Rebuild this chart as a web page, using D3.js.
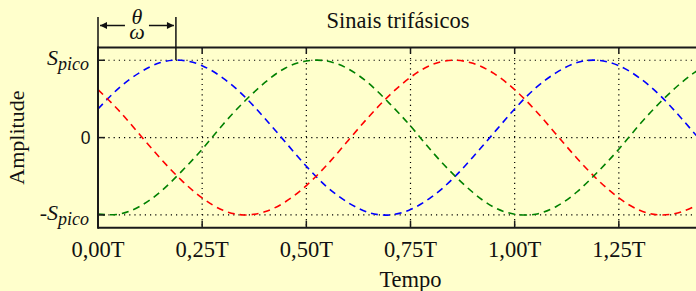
<!DOCTYPE html>
<html>
<head>
<meta charset="utf-8">
<script src="https://cdn.jsdelivr.net/npm/d3@7/dist/d3.min.js"></script>
<style>
  body { margin: 0; background: #ffffcc; }
  svg { display: block; }
</style>
</head>
<body>
<script>
'use strict';

// tempo em fracoes de T (passo 0,05T)
const tempo = [0, 0.05, 0.10, 0.15, 0.20, 0.25, 0.30, 0.35, 0.40, 0.45, 0.50,
    0.55, 0.60, 0.65, 0.70, 0.75, 0.80, 0.85, 0.90, 0.95, 1.00,
    1.05, 1.10, 1.15, 1.20, 1.25, 1.30, 1.35, 1.40, 1.45, 1.50];

// amplitude (em unidades de S_pico)
const faseVermelha = [0.62, 0.35, 0.04, -0.27, -0.55, -0.78, -0.94, -1.00, -0.96, -0.83, -0.62,
    -0.35, -0.04, 0.27, 0.55, 0.78, 0.94, 1.00, 0.96, 0.83, 0.62,
    0.35, 0.04, -0.27, -0.55, -0.78, -0.94, -1.00, -0.96, -0.83, -0.62];
const faseVerde = [-0.99, -0.99, -0.89, -0.70, -0.44, -0.15, 0.17, 0.46, 0.71, 0.90, 0.99,
    0.99, 0.89, 0.70, 0.44, 0.15, -0.17, -0.46, -0.71, -0.90, -0.99,
    -0.99, -0.89, -0.70, -0.44, -0.15, 0.17, 0.46, 0.71, 0.90, 0.99];
const faseAzul = [0.37, 0.64, 0.84, 0.97, 1.00, 0.93, 0.77, 0.54, 0.25, -0.06, -0.37,
    -0.64, -0.84, -0.97, -1.00, -0.93, -0.77, -0.54, -0.25, 0.06, 0.37,
    0.64, 0.84, 0.97, 1.00, 0.93, 0.77, 0.54, 0.25, -0.06, -0.37];

const xTicks = [0, 0.25, 0.5, 0.75, 1.0, 1.25, 1.5];
const xTickLabels = ['0,00T', '0,25T', '0,50T', '0,75T', '1,00T', '1,25T'];
const yTicks = [1, 0, -1];
const thetaT = 0.187; // theta/omega

(function () {
    const W = 696, H = 291;
    const mLeft = 98, mRight = 723, mTop = 47.5, mBottom = 227.7;

    const svg = d3.select('body').append('svg')
        .attr('width', W)
        .attr('height', H);

    svg.append('rect').attr('width', W).attr('height', H).attr('fill', '#ffffcc');

    const x = d3.scaleLinear().domain([0, 1.5]).range([mLeft, mRight]);
    const y = d3.scaleLinear().domain([-1.165, 1.165]).range([mBottom, mTop]);

    const defs = svg.append('defs');
    defs.append('clipPath').attr('id', 'plot')
        .append('rect')
        .attr('x', mLeft).attr('y', mTop)
        .attr('width', mRight - mLeft).attr('height', mBottom - mTop);

    // grade pontilhada
    const grid = svg.append('g');
    grid.selectAll('line.v')
        .data(xTicks.slice(1))
        .enter().append('line')
        .attr('x1', d => x(d)).attr('x2', d => x(d))
        .attr('y1', mTop).attr('y2', mBottom)
        .attr('stroke', '#000').attr('stroke-width', 1.2)
        .attr('stroke-dasharray', '1.2,4');
    grid.selectAll('line.h')
        .data(yTicks)
        .enter().append('line')
        .attr('x1', mLeft).attr('x2', mRight)
        .attr('y1', d => y(d)).attr('y2', d => y(d))
        .attr('stroke', '#000').attr('stroke-width', 1.2)
        .attr('stroke-dasharray', '1.2,4');

    // curvas
    const linha = d3.line()
        .x((d, i) => x(tempo[i]))
        .y(d => y(d))
        .curve(d3.curveNatural);

    const series = [
        { valores: faseAzul, cor: '#0000ff' },
        { valores: faseVermelha, cor: '#ff0000' },
        { valores: faseVerde, cor: '#008000' }
    ];

    svg.append('g').attr('clip-path', 'url(#plot)')
        .selectAll('path')
        .data(series)
        .enter().append('path')
        .attr('d', d => linha(d.valores))
        .attr('fill', 'none')
        .attr('stroke', d => d.cor)
        .attr('stroke-width', 1.6)
        .attr('stroke-dasharray', '7,5');

    // eixos
    const ax = svg.append('g').attr('stroke', '#1a1a1a').attr('stroke-width', 2);
    ax.append('line').attr('x1', mLeft).attr('x2', mRight).attr('y1', mTop).attr('y2', mTop);
    ax.append('line').attr('x1', mLeft).attr('x2', mRight).attr('y1', mBottom).attr('y2', mBottom);
    ax.append('line').attr('x1', mLeft).attr('x2', mLeft).attr('y1', mTop - 1).attr('y2', mBottom + 1);

    const ticks = svg.append('g').attr('stroke', '#1a1a1a').attr('stroke-width', 1.5);
    xTicks.slice(1).forEach(t => {
        ticks.append('line').attr('x1', x(t)).attr('x2', x(t)).attr('y1', mTop).attr('y2', mTop + 6);
        ticks.append('line').attr('x1', x(t)).attr('x2', x(t)).attr('y1', mBottom).attr('y2', mBottom - 7);
    });
    yTicks.forEach(v => {
        ticks.append('line').attr('x1', mLeft).attr('x2', mLeft + 7).attr('y1', y(v)).attr('y2', y(v));
    });

    // rotulos
    const serif = 'Liberation Serif, Times New Roman, serif';

    svg.selectAll('text.xt')
        .data(xTickLabels)
        .enter().append('text')
        .attr('x', (d, i) => x(xTicks[i]))
        .attr('y', 256.5)
        .attr('text-anchor', 'middle')
        .attr('font-family', serif)
        .attr('font-size', 22.5)
        .attr('fill', '#111')
        .text(d => d);

    function spico(v, prefixo) {
        const t = svg.append('text')
            .attr('x', 89)
            .attr('y', y(v) + 5)
            .attr('text-anchor', 'end')
            .attr('font-family', serif)
            .attr('fill', '#111');
        t.append('tspan').attr('font-size', 22).attr('font-style', 'italic').text(prefixo + 'S');
        t.append('tspan').attr('font-size', 18).attr('font-style', 'italic').attr('dy', 5).text('pico');
    }
    spico(1, '');
    spico(-1, '-');

    svg.append('text')
        .attr('x', 90.5)
        .attr('y', y(0) + 6.5)
        .attr('text-anchor', 'end')
        .attr('font-family', 'Liberation Sans, Arial, sans-serif')
        .attr('font-size', 17.5)
        .attr('fill', '#111')
        .text('0');

    svg.append('text')
        .attr('x', 398)
        .attr('y', 28)
        .attr('text-anchor', 'middle')
        .attr('font-family', serif)
        .attr('font-size', 22.5)
        .attr('fill', '#111')
        .text('Sinais trifásicos');

    svg.append('text')
        .attr('x', (mLeft + mRight) / 2)
        .attr('y', 287)
        .attr('text-anchor', 'middle')
        .attr('font-family', serif)
        .attr('font-size', 22.5)
        .attr('fill', '#111')
        .text('Tempo');

    svg.append('text')
        .attr('transform', 'translate(23.5,' + y(0) + ') rotate(-90)')
        .attr('text-anchor', 'middle')
        .attr('font-family', serif)
        .attr('font-size', 22)
        .attr('fill', '#111')
        .text('Amplitude');

    // anotacao theta/omega
    const xa = x(0), xb = x(thetaT), ya = 25.5;
    const meio = (xa + xb) / 2;
    defs.append('marker')
        .attr('id', 'seta')
        .attr('viewBox', '0 0 10 10')
        .attr('refX', 10).attr('refY', 5)
        .attr('markerWidth', 10).attr('markerHeight', 7)
        .attr('markerUnits', 'userSpaceOnUse')
        .attr('orient', 'auto')
        .append('path').attr('d', 'M0,0L10,5L0,10z').attr('fill', '#111');

    const an = svg.append('g').attr('stroke', '#111').attr('stroke-width', 1.5);
    an.append('line').attr('x1', xa).attr('x2', xa).attr('y1', 17).attr('y2', mTop);
    an.append('line').attr('x1', xb).attr('x2', xb).attr('y1', 17).attr('y2', y(1));
    an.append('line').attr('x1', meio - 12).attr('x2', xa + 2).attr('y1', ya).attr('y2', ya)
        .attr('marker-end', 'url(#seta)');
    an.append('line').attr('x1', meio + 12).attr('x2', xb - 2).attr('y1', ya).attr('y2', ya)
        .attr('marker-end', 'url(#seta)');

    // fracao theta/omega num so texto
    const frac = svg.append('text')
        .attr('text-anchor', 'middle')
        .attr('font-family', serif).attr('font-style', 'italic')
        .attr('font-size', 22).attr('fill', '#111');
    frac.append('tspan').attr('x', meio).attr('y', 23.5).text('θ');
    frac.append('tspan').attr('x', meio).attr('y', 38.5).text('ω');
})();
</script>
</body>
</html>
